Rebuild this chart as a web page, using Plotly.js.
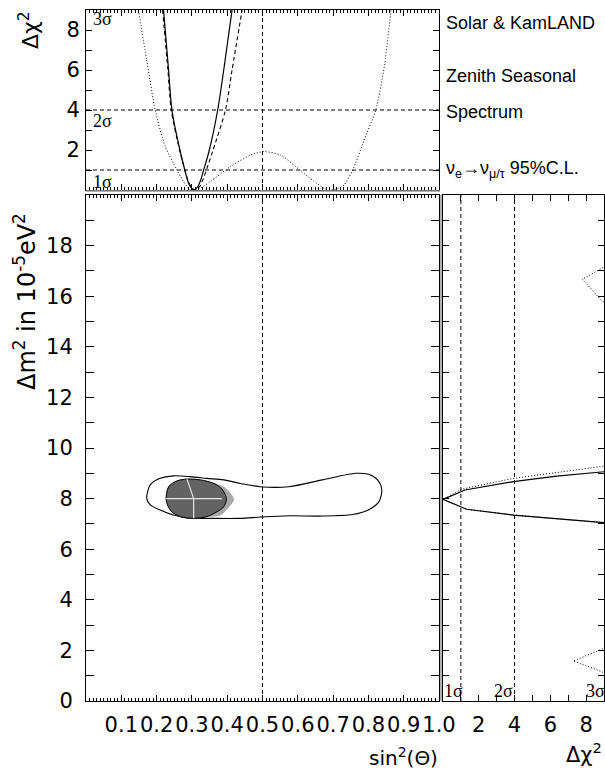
<!DOCTYPE html>
<html><head><meta charset="utf-8">
<script src="https://cdn.plot.ly/plotly-3.0.1.min.js"></script>
<style>body{margin:0;background:#fff}#plot{width:605px;height:770px}</style>
</head><body><div id="plot"></div>
<script>
// ---------- Top panel: delta chi^2 versus sin^2(theta) ----------
const zenithX = [0.2197,0.2339,0.2434,0.2660,0.2800,0.2874,0.2960,0.3049,0.3160,0.3250,0.3333,0.3494,0.3731,0.3902,0.4138];
const zenithY = [9,6,4,2,1,0.5,0.15,0,0.15,0.5,1,2,4,6,9];
const spectrumX = [0.2169,0.2320,0.2415,0.2650,0.2800,0.2885,0.2980,0.3080,0.3210,0.3310,0.3410,0.3600,0.3950,0.4138,0.4422];
const spectrumY = [9,6,4,2,1,0.5,0.15,0,0.15,0.5,1,2,4,6,9];
const solarX = [0.1487,0.172,0.196,0.2244,0.2576,0.275,0.2955,0.320,0.352,0.409,0.466,0.504,0.551,0.608,0.645,0.675,0.693,0.715,0.731,0.755,0.788,0.821,0.845,0.864];
const solarY = [9,6.5,4,2.17,1,0.45,0,0.05,0.42,1.17,1.75,1.92,1.75,0.97,0.45,0.08,0,0.08,0.25,0.97,2.5,4,6.17,9];

// ---------- Main panel: allowed regions ----------
const outerX = [0.172,0.182,0.210,0.248,0.295,0.343,0.390,0.4375,0.494,0.575,0.670,0.764,0.800,0.826,0.838,0.830,0.800,0.755,0.670,0.575,0.494,0.4375,0.343,0.295,0.248,0.210,0.182,0.172];
const outerY = [8.01,8.54,8.80,8.90,8.87,8.80,8.74,8.60,8.47,8.47,8.74,9.00,8.96,8.74,8.34,7.88,7.55,7.37,7.31,7.32,7.27,7.22,7.22,7.22,7.35,7.55,7.75,8.01];
const lightX = [0.227,0.234,0.258,0.286,0.324,0.362,0.395,0.418,0.400,0.380,0.343,0.305,0.267,0.243,0.231,0.227];
const lightY = [8.00,8.47,8.70,8.77,8.74,8.60,8.41,7.97,7.61,7.35,7.29,7.22,7.29,7.48,7.75,8.00];
const darkX = [0.227,0.234,0.258,0.286,0.324,0.362,0.385,0.398,0.390,0.371,0.343,0.305,0.267,0.243,0.231,0.227];
const darkY = [8.00,8.47,8.70,8.77,8.74,8.60,8.38,8.00,7.67,7.48,7.29,7.22,7.29,7.48,7.75,8.00];
const bestHX = [0.227,0.385], bestHY = [8.0,8.0];
const bestVX = [0.286,0.305,0.305], bestVY = [8.77,8.0,7.22];

// ---------- Right panel: delta chi^2 versus delta m^2 ----------
const dmSolidX = [9.3,6.35,3.93,1.32,0,1.23,3.93,6.35,9.3];
const dmSolidY = [7.03,7.19,7.35,7.58,7.97,8.34,8.67,8.89,9.08];
const dmDotX = [9.3,6.35,3.93,1.32,0,1.04,3.93,9.3];
const dmDotY = [7.03,7.19,7.35,7.58,7.97,8.37,8.80,9.31];
const islandHiX = [9.4,8.96,7.8,8.87,9.4], islandHiY = [17.3,17.14,16.67,15.82,15.6];
const islandLoX = [9.4,8.87,7.28,8.87,9.4], islandLoY = [2.2,2.04,1.58,1.16,0.95];

// reference levels
const sigmaLevels = [1, 4];
const maxMixing = 0.5;
const sinTicks = [0.1,0.2,0.3,0.4,0.5,0.6,0.7,0.8,0.9,1.0];
const sinTickText = ['0.1','0.2','0.3','0.4','0.5','0.6','0.7','0.8','0.9','1.0'];
const chiTopTicks = [0,1,2,3,4,5,6,7,8,9];
const chiTopText = ['','','2','','4','','6','','8',''];
const dmTicks = [0,1,2,3,4,5,6,7,8,9,10,11,12,13,14,15,16,17,18,19,20];
const dmTickText = ['0','','2','','4','','6','','8','','10','','12','','14','','16','','18','',''];
const chiRightTicks = [0,1,2,3,4,5,6,7,8,9];
const chiRightText = ['','','2','','4','','6','','8',''];

const DASH = '4px,3px', DOT = '1px,2px';
const tickFont = {family:'DejaVu Sans', size:21, color:'#000'};

const traces = [
  // top panel
  {x:solarX, y:solarY, xaxis:'x2', yaxis:'y2', mode:'lines', line:{color:'#000', width:1, dash:DOT, shape:'spline', smoothing:0.6}},
  {x:spectrumX, y:spectrumY, xaxis:'x2', yaxis:'y2', mode:'lines', line:{color:'#000', width:1.1, dash:DASH, shape:'spline', smoothing:0.8}},
  {x:zenithX, y:zenithY, xaxis:'x2', yaxis:'y2', mode:'lines', line:{color:'#000', width:1.2, shape:'spline', smoothing:0.8}},
  // main panel
  {x:outerX, y:outerY, xaxis:'x', yaxis:'y', mode:'lines', fill:'toself', fillcolor:'#fff', line:{color:'#000', width:1.1, shape:'spline', smoothing:0.8}},
  {x:lightX, y:lightY, xaxis:'x', yaxis:'y', mode:'lines', fill:'toself', fillcolor:'#a9a9a9', line:{color:'#9a9a9a', width:0.8, shape:'spline', smoothing:0.8}},
  {x:darkX, y:darkY, xaxis:'x', yaxis:'y', mode:'lines', fill:'toself', fillcolor:'#636363', line:{color:'#000', width:1, shape:'spline', smoothing:0.8}},
  {x:bestHX, y:bestHY, xaxis:'x', yaxis:'y', mode:'lines', line:{color:'#e6e6e6', width:1.2}},
  {x:bestVX, y:bestVY, xaxis:'x', yaxis:'y', mode:'lines', line:{color:'#e6e6e6', width:1.2}},
  // right panel
  {x:dmDotX, y:dmDotY, xaxis:'x3', yaxis:'y3', mode:'lines', line:{color:'#000', width:1, dash:DOT}},
  {x:dmSolidX, y:dmSolidY, xaxis:'x3', yaxis:'y3', mode:'lines', line:{color:'#000', width:1.2}},
  {x:islandHiX, y:islandHiY, xaxis:'x3', yaxis:'y3', mode:'lines', line:{color:'#000', width:1, dash:DOT}},
  {x:islandLoX, y:islandLoY, xaxis:'x3', yaxis:'y3', mode:'lines', line:{color:'#000', width:1, dash:DOT}}
];

const W = 605, H = 770;
const px = v => v / W, py = v => 1 - v / H;
const xMainDom = [px(86), px(439)];
const yMainDom = [py(701), py(195)];
const yTopDom = [py(190), py(10)];
const xRightDom = [px(443), px(604)];

const shapes = [];
sigmaLevels.forEach(l => {
  shapes.push({type:'line', xref:'x2 domain', yref:'y2', x0:0, x1:1, y0:l, y1:l, line:{color:'#000', width:1, dash:DASH}});
  shapes.push({type:'line', xref:'x3', yref:'y3 domain', x0:l, x1:l, y0:0, y1:1, line:{color:'#000', width:1, dash:DASH}});
});
shapes.push({type:'line', xref:'x', yref:'y domain', x0:maxMixing, x1:maxMixing, y0:0, y1:1, line:{color:'#000', width:1, dash:DASH}});
shapes.push({type:'line', xref:'x2', yref:'y2 domain', x0:maxMixing, x1:maxMixing, y0:0, y1:1, line:{color:'#000', width:1, dash:DASH}});
// grey frame shadows between panels
shapes.push({type:'line', xref:'paper', yref:'paper', x0:px(86), x1:px(440), y0:py(191), y1:py(191), line:{color:'#999', width:1.5}});
shapes.push({type:'line', xref:'paper', yref:'paper', x0:px(441), x1:px(441), y0:py(195), y1:py(701), line:{color:'#999', width:1.5}});

const serif = {family:'Liberation Serif', size:18, color:'#000'};
const sans = {family:'Liberation Sans', size:18, color:'#000'};
function ann(o){ return Object.assign({showarrow:false, xanchor:'center', yanchor:'middle'}, o); }
const annotations = [
  ann({xref:'x2', yref:'y2', x:0.047, y:8.55, text:'3σ', font:serif}),
  ann({xref:'x2', yref:'y2', x:0.047, y:3.45, text:'2σ', font:serif}),
  ann({xref:'x2', yref:'y2', x:0.047, y:0.4, text:'1σ', font:serif}),
  ann({xref:'x3', yref:'y3', x:0.58, y:0.4, text:'1σ', font:serif}),
  ann({xref:'x3', yref:'y3', x:3.4, y:0.4, text:'2σ', font:serif}),
  ann({xref:'x3', yref:'y3', x:8.55, y:0.4, text:'3σ', font:serif}),
  ann({xref:'paper', yref:'paper', x:px(444), y:py(23), xanchor:'left', text:'Solar & KamLAND', font:sans}),
  ann({xref:'paper', yref:'paper', x:px(444), y:py(76), xanchor:'left', text:'Zenith Seasonal', font:sans}),
  ann({xref:'paper', yref:'paper', x:px(444), y:py(112), xanchor:'left', text:'Spectrum', font:sans}),
  ann({xref:'paper', yref:'paper', x:px(444), y:py(170), xanchor:'left', text:'ν<sub>e</sub>→ν<sub>μ/τ</sub> 95%C.L.', font:sans}),
  ann({xref:'paper', yref:'paper', x:px(29), y:py(30), text:'Δχ<sup>2</sup>', textangle:-90, font:{family:'DejaVu Sans', size:22, color:'#000'}}),
  ann({xref:'paper', yref:'paper', x:px(25), y:py(302), text:'Δm<sup>2</sup> in 10<sup>-5</sup>eV<sup>2</sup>', textangle:-90, font:{family:'DejaVu Sans', size:24, color:'#000'}}),
  ann({xref:'paper', yref:'paper', x:px(440), y:py(757), xanchor:'right', text:'sin<sup>2</sup>(Θ)', font:{family:'DejaVu Sans', size:20, color:'#000'}}),
  ann({xref:'paper', yref:'paper', x:px(604), y:py(753), xanchor:'right', text:'Δχ<sup>2</sup>', font:{family:'DejaVu Sans', size:21, color:'#000'}})
];

const common = {showline:true, linecolor:'#000', linewidth:1, mirror:'allticks', ticks:'inside', tickcolor:'#000', zeroline:false, showgrid:false, tickfont:tickFont, tickangle:0, fixedrange:true};

const layout = {
  width:W, height:H, margin:{l:0, r:0, t:0, b:0}, showlegend:false,
  paper_bgcolor:'#fff', plot_bgcolor:'#fff',
  xaxis: Object.assign({}, common, {domain:xMainDom, range:[0,1], tickmode:'array', tickvals:sinTicks, ticktext:sinTickText, ticklen:6, ticklabelstandoff:5,
    minor:{tickmode:'linear', tick0:0, dtick:0.01, ticklen:3, ticks:'inside', tickcolor:'#000'}, anchor:'y'}),
  yaxis: Object.assign({}, common, {domain:yMainDom, range:[0,20], tickmode:'array', tickvals:dmTicks, ticktext:dmTickText, ticklen:8, ticklabelstandoff:8, anchor:'x'}),
  xaxis2: Object.assign({}, common, {domain:xMainDom, range:[0,1], tickmode:'array', tickvals:sinTicks, ticktext:sinTickText, showticklabels:false, ticklen:6,
    minor:{tickmode:'linear', tick0:0, dtick:0.01, ticklen:3, ticks:'inside', tickcolor:'#000'}, anchor:'y2'}),
  yaxis2: Object.assign({}, common, {domain:yTopDom, range:[0,9], tickmode:'array', tickvals:chiTopTicks, ticktext:chiTopText, ticklen:6, ticklabelstandoff:1, anchor:'x2'}),
  xaxis3: Object.assign({}, common, {domain:xRightDom, range:[0,9], tickmode:'array', tickvals:chiRightTicks, ticktext:chiRightText, ticklen:6, ticklabelstandoff:5, anchor:'y3'}),
  yaxis3: Object.assign({}, common, {domain:yMainDom, range:[0,20], matches:'y', tickmode:'array', tickvals:dmTicks, ticktext:dmTickText, showticklabels:false, ticklen:6, anchor:'x3'}),
  shapes: shapes,
  annotations: annotations
};

Plotly.newPlot('plot', traces, layout, {staticPlot:true, displayModeBar:false});
</script>
</body></html>
